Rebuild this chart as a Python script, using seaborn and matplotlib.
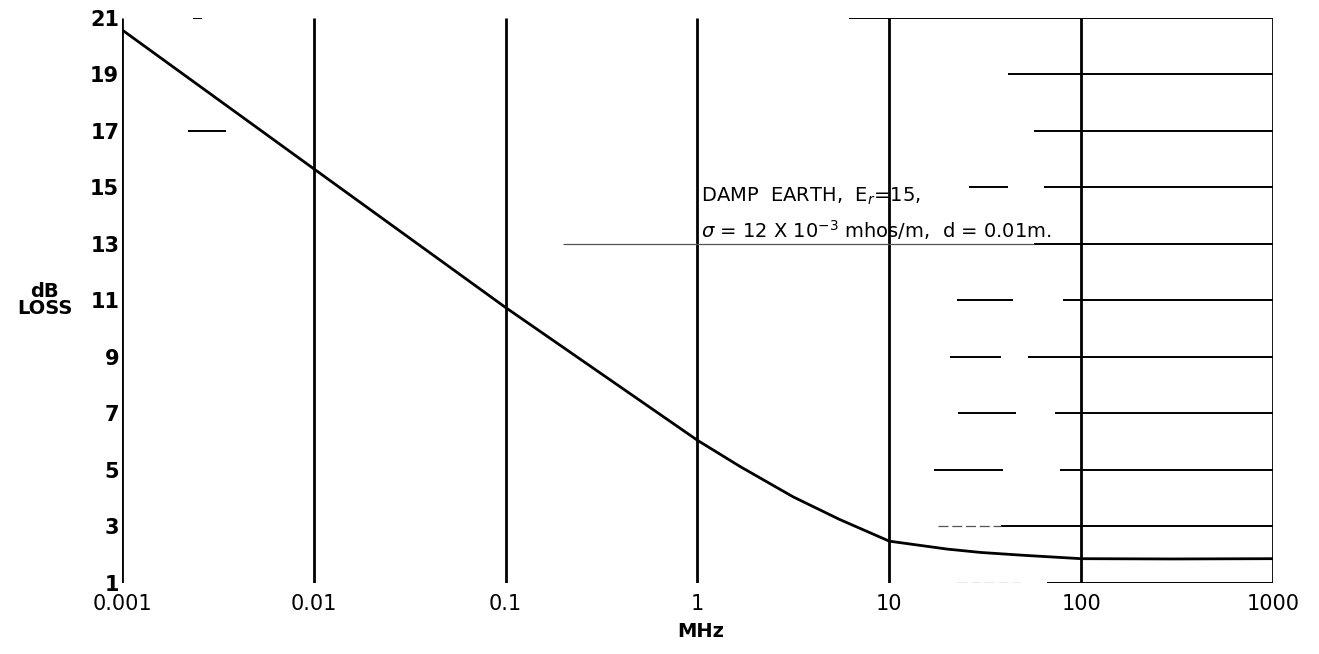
import matplotlib
matplotlib.use("Agg")
import matplotlib.pyplot as plt
import numpy as np
import pandas as pd
import seaborn as sns

# loss curve (frequency in MHz, loss in dB)
freq_mhz = [0.001, 0.01, 0.1, 1, 1.67, 3.15, 5.5, 10, 20, 30, 50, 100, 300, 1000]
loss_db = [20.58, 15.66, 10.75, 6.05, 5.12, 4.05, 3.25, 2.48, 2.2, 2.08, 1.98, 1.86, 1.85, 1.86]

x_ticks = [0.001, 0.01, 0.1, 1, 10, 100, 1000]
x_labels = ["0.001", "0.01", "0.1", "1", "10", "100", "1000"]
y_ticks = list(range(1, 22, 2))

# horizontal rulings that survive in the scan: (level, from MHz, to MHz)
rulings = [(21, 6.2, 1000), (19, 41.6, 1000), (17, 57, 1000), (15, 64, 1000),
           (15, 26, 41.6), (13, 57, 1000), (11, 80, 1000), (11, 22.5, 44),
           (9, 53, 1000), (9, 20.7, 38), (7, 73, 1000), (7, 22.8, 46),
           (5, 78, 1000), (5, 17, 39), (3, 38, 1000), (1, 66, 1000),
           (21, 0.00234, 0.00261), (17, 0.0022, 0.0035)]
faint_rulings = [(13, 0.2, 57), (3, 17.9, 38), (1, 22.5, 48)]

note_1 = "DAMP  EARTH,  E$_r$=15,"
note_2 = "$\\sigma$ = 12 X 10$^{-3}$ mhos/m,  d = 0.01m."

sns.set_theme(style="white")
plt.rcParams["font.family"] = ["DejaVu Sans"]
plt.rcParams["text.color"] = "black"
plt.rcParams["xtick.color"] = "black"
plt.rcParams["ytick.color"] = "black"

fig = plt.figure(figsize=(13.19, 6.54), dpi=100)
ax = fig.add_axes([0.0925, 0.1086, 0.8726, 0.8639])

df = pd.DataFrame({"MHz": freq_mhz, "dB": loss_db})
sns.lineplot(data=df, x="MHz", y="dB", ax=ax, color="black", linewidth=2.0)

ax.set_xscale("log")
ax.set_xlim(0.001, 1000)
ax.set_ylim(1, 21)

# decade rulings
for xv in x_ticks:
    ax.vlines(xv, 1, 21, color="black", linewidth=2.0)

for lvl, a, b in rulings:
    ax.hlines(lvl, a, b, color="black", linewidth=1.4)
for lvl, a, b in faint_rulings:
    ax.hlines(lvl, a, b, color="#555555", linewidth=0.9,
              linestyles=(0, (8, 3)) if lvl != 13 else "solid")

for s in ax.spines.values():
    s.set_visible(False)
ax.grid(False)

ax.set_xticks(x_ticks)
ax.set_xticklabels(x_labels, fontsize=15)
ax.xaxis.set_minor_locator(matplotlib.ticker.NullLocator())
ax.set_yticks(y_ticks)
ax.set_yticklabels([str(v) for v in y_ticks], fontsize=15, fontweight="bold")
ax.tick_params(axis="both", length=0)
ax.tick_params(axis="x", pad=8)
ax.tick_params(axis="y", pad=2)
ax.set_xlabel("")
ax.set_ylabel("")

ax.text(1.04, 14.7, note_1, fontsize=14, va="center", ha="left", fontweight="medium")
ax.text(1.04, 13.5, note_2, fontsize=14, va="center", ha="left", fontweight="medium")

fig.text(0.034, 0.541, "dB\nLOSS", fontsize=14, fontweight="bold", ha="center", va="center", linespacing=0.9)
fig.text(0.531, 0.034, "MHz", fontsize=14, fontweight="bold", ha="center", va="center")

fig.savefig("out.png", dpi=100)
